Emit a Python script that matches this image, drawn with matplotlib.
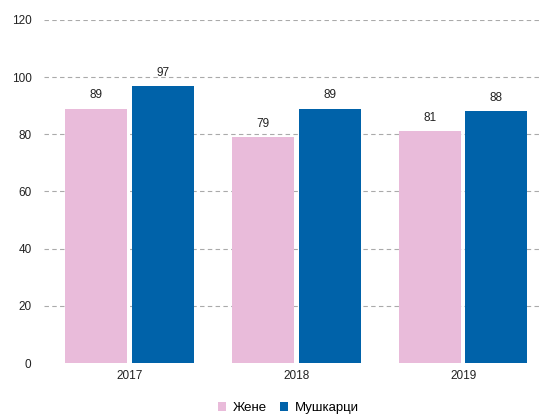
import numpy as np
import matplotlib.pyplot as plt

plt.rcParams['font.family'] = ['Liberation Sans', 'DejaVu Sans']

years = ['2017', '2018', '2019']
zene = [89, 79, 81]
muskarci = [97, 89, 88]
yticks = [0, 20, 40, 60, 80, 100, 120]

pink = '#E9BBDA'
blue = '#0062A9'

fig = plt.figure(figsize=(5.39, 4.2), dpi=100)
ax = fig.add_axes([0.0816, 0.1357, 0.9184, 0.8167])

x = np.arange(len(years))
w = 0.372
off = 0.2
b1 = ax.bar(x - off, zene, w, color=pink, label='Жене')
b2 = ax.bar(x + off, muskarci, w, color=blue, label='Мушкарци')

for bars in (b1, b2):
    for b in bars:
        ax.text(b.get_x() + b.get_width() / 2, b.get_height() + 2.5, str(int(b.get_height())),
                ha='center', va='bottom', fontsize=8.5, color='#222222')

ax.set_xlim(-0.512, 2.455)
ax.set_ylim(0, 120)
ax.set_yticks(yticks)
ax.set_xticks(x)
ax.set_xticklabels(years)
ax.tick_params(axis='both', length=0, labelsize=8.5, colors='#222222')
ax.tick_params(axis='y', pad=9)
ax.tick_params(axis='x', pad=5)
for s in ax.spines.values():
    s.set_visible(False)

ax.yaxis.grid(True, linestyle=(0, (4, 3)), color='#AAAAAA', linewidth=0.8)
ax.set_axisbelow(True)
ax.get_ygridlines()[0].set_visible(False)

fig.legend(handles=[b1, b2], loc='center', bbox_to_anchor=(0.535, 0.028), ncol=2, frameon=False,
           fontsize=9.5, handlelength=0.6, handleheight=0.6, handletextpad=0.5, columnspacing=1.0)

fig.savefig('out.png', dpi=100)
